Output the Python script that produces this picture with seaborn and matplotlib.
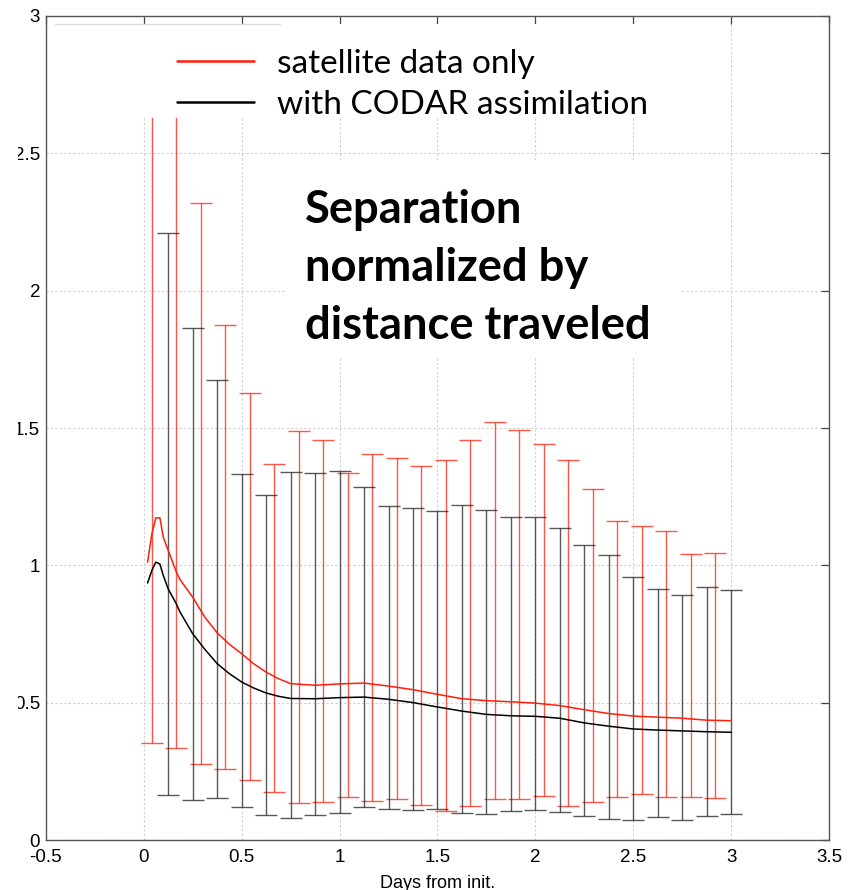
import matplotlib
matplotlib.use("Agg")
import matplotlib.pyplot as plt
import seaborn as sns
import pandas as pd
from matplotlib.patches import Rectangle
from matplotlib.lines import Line2D

# ---- data -------------------------------------------------------------
series_names = ["satellite data only", "with CODAR assimilation"]

# mean normalized separation curves
curve_days = [0.02, 0.042, 0.062, 0.083, 0.1, 0.125, 0.167, 0.186, 0.25, 0.312,
              0.375, 0.438, 0.5, 0.562, 0.625, 0.688, 0.75, 0.875, 1.0, 1.125,
              1.25, 1.375, 1.5, 1.625, 1.75, 1.875, 2.0, 2.125, 2.25, 2.375,
              2.5, 2.625, 2.75, 2.875, 3.0]
sat_mean = [1.012, 1.115, 1.173, 1.173, 1.103, 1.055, 0.976, 0.948, 0.885, 0.812,
            0.755, 0.713, 0.679, 0.642, 0.612, 0.588, 0.570, 0.564, 0.569, 0.572,
            0.561, 0.548, 0.531, 0.515, 0.508, 0.504, 0.499, 0.490, 0.475, 0.461,
            0.452, 0.448, 0.444, 0.437, 0.435]
codar_mean = [0.936, 0.982, 1.012, 1.005, 0.964, 0.915, 0.860, 0.830, 0.752, 0.695,
              0.643, 0.606, 0.576, 0.554, 0.536, 0.524, 0.516, 0.515, 0.519, 0.521,
              0.513, 0.501, 0.485, 0.470, 0.458, 0.453, 0.451, 0.444, 0.427, 0.415,
              0.405, 0.401, 0.398, 0.395, 0.393]

# spread (lower / upper bounds) of the ensemble
sat_days = [0.042, 0.167, 0.292, 0.417, 0.542, 0.667, 0.792, 0.917, 1.042, 1.167,
            1.292, 1.417, 1.542, 1.667, 1.792, 1.917, 2.042, 2.167, 2.292, 2.417,
            2.542, 2.667, 2.792, 2.917]
sat_lo = [0.354, 0.337, 0.279, 0.261, 0.218, 0.176, 0.135, 0.138, 0.158, 0.144,
          0.149, 0.128, 0.107, 0.125, 0.152, 0.149, 0.161, 0.126, 0.141, 0.159,
          0.168, 0.158, 0.159, 0.155]
sat_hi = [2.90, 2.90, 2.319, 1.875, 1.627, 1.368, 1.490, 1.455, 1.337, 1.406,
          1.390, 1.360, 1.384, 1.456, 1.522, 1.492, 1.442, 1.384, 1.279, 1.160,
          1.143, 1.125, 1.042, 1.047]

codar_days = [0.125, 0.25, 0.375, 0.5, 0.625, 0.75, 0.875, 1.0, 1.125, 1.25,
              1.375, 1.5, 1.625, 1.75, 1.875, 2.0, 2.125, 2.25, 2.375, 2.5,
              2.625, 2.75, 2.875, 3.0]
codar_lo = [0.164, 0.147, 0.153, 0.120, 0.093, 0.081, 0.092, 0.100, 0.120, 0.115,
            0.112, 0.115, 0.098, 0.096, 0.105, 0.110, 0.104, 0.088, 0.076, 0.075,
            0.086, 0.073, 0.087, 0.097]
codar_hi = [2.208, 1.865, 1.673, 1.331, 1.255, 1.339, 1.336, 1.343, 1.284, 1.218,
            1.208, 1.197, 1.220, 1.200, 1.178, 1.175, 1.137, 1.073, 1.038, 0.959,
            0.916, 0.893, 0.920, 0.909]

x_ticks = [-0.5, 0, 0.5, 1, 1.5, 2, 2.5, 3, 3.5]
x_tick_labels = ["-0.5", "0", "0.5", "1", "1.5", "2", "2.5", "3", "3.5"]
y_ticks = [0, 0.5, 1, 1.5, 2, 2.5, 3]
y_tick_labels = ["0", "0.5", "1", "1.5", "2", "2.5", "3"]

# ---- figure -----------------------------------------------------------
W, H = 859, 890
sns.set_theme(style="white")
plt.rcParams["font.family"] = ["Liberation Sans", "DejaVu Sans"]
plt.rcParams["text.color"] = "black"

RED = "#ff1e0a"
colors = {series_names[0]: RED, series_names[1]: "black"}

fig = plt.figure(figsize=(W / 100, H / 100), dpi=100)
L, R, B, T = 45.7, 829.3, 840.3, 15.7
ax = fig.add_axes([L / W, 1 - B / H, (R - L) / W, (B - T) / H])


def axfrac(px, py):
    return (px - L) / (R - L), (B - py) / (B - T)


df = pd.concat([
    pd.DataFrame({"day": curve_days, "sep": sat_mean, "run": series_names[0]}),
    pd.DataFrame({"day": curve_days, "sep": codar_mean, "run": series_names[1]}),
])
sns.lineplot(data=df, x="day", y="sep", hue="run", palette=colors,
             estimator=None, sort=False, linewidth=1.1, legend=False,
             ax=ax, zorder=3)


def spread(days, lo, hi, color):
    mid = [(a + b) / 2 for a, b in zip(lo, hi)]
    err = [[m - a for m, a in zip(mid, lo)], [b - m for m, b in zip(mid, hi)]]
    ax.errorbar(days, mid, yerr=err, fmt="none", ecolor=color,
                elinewidth=1.0, capsize=8, capthick=1.0, alpha=0.75, zorder=2)


spread(sat_days, sat_lo, sat_hi, RED)
spread(codar_days, codar_lo, codar_hi, "#222222")

ax.set_xlim(-0.5, 3.5)
ax.set_ylim(0, 3)
ax.set_xticks(x_ticks)
ax.set_xticklabels(x_tick_labels)
ax.set_yticks(y_ticks)
ax.set_yticklabels(y_tick_labels)
ax.set_xlabel("Days from init.", fontsize=13, labelpad=6, color="black")
ax.set_ylabel("")
ax.set_axisbelow(True)
ax.grid(True, color="#cfcfcf", linestyle=(0, (2, 2)), linewidth=0.8)
for s in ax.spines.values():
    s.set_color("#555555")
    s.set_linewidth(1.0)
ax.tick_params(axis="both", direction="in", length=6, width=0.9,
               color="#444444", top=True, right=True, labelsize=13.5,
               labelcolor="black")
ax.tick_params(axis="x", pad=6.5)
ax.tick_params(axis="y", pad=4)

# white panels behind legend and caption
x0, y0 = axfrac(52, 118)
x1, y1 = axfrac(660, 24)
ax.add_patch(Rectangle((x0, y0), x1 - x0, y1 - y0, transform=ax.transAxes,
                       facecolor="white", edgecolor="none", zorder=4))
x0, y0 = axfrac(285, 358)
x1, y1 = axfrac(680, 160)
ax.add_patch(Rectangle((x0, y0), x1 - x0, y1 - y0, transform=ax.transAxes,
                       facecolor="white", edgecolor="none", zorder=4))
fig.add_artist(Line2D([55 / W, 280 / W], [1 - 24 / H, 1 - 24 / H],
                      color="#dddddd", linewidth=1.0, zorder=5))

handles = [Line2D([], [], color=colors[n], linewidth=1.8) for n in series_names]
lx, ly = axfrac(177, 49)
leg = ax.legend(handles, series_names, loc="upper left",
                bbox_to_anchor=(lx, ly), frameon=False,
                prop={"family": "Lato", "size": 24}, handlelength=2.3,
                handletextpad=0.7, borderpad=0, borderaxespad=0,
                labelspacing=0.32)
for t in leg.get_texts():
    t.set_color("black")
leg.set_zorder(6)

fig.text(305 / W, 1 - 189 / H, "Separation\nnormalized by\ndistance traveled",
         fontsize=32.7, fontweight="bold", family="Lato", va="top", ha="left",
         linespacing=1.47, color="black", zorder=7)

# left margin mask
fig.add_artist(Rectangle((0, 0), 18 / W, 1, transform=fig.transFigure,
                         facecolor="white", edgecolor="none", zorder=10))

fig.savefig("out.png", dpi=100)
